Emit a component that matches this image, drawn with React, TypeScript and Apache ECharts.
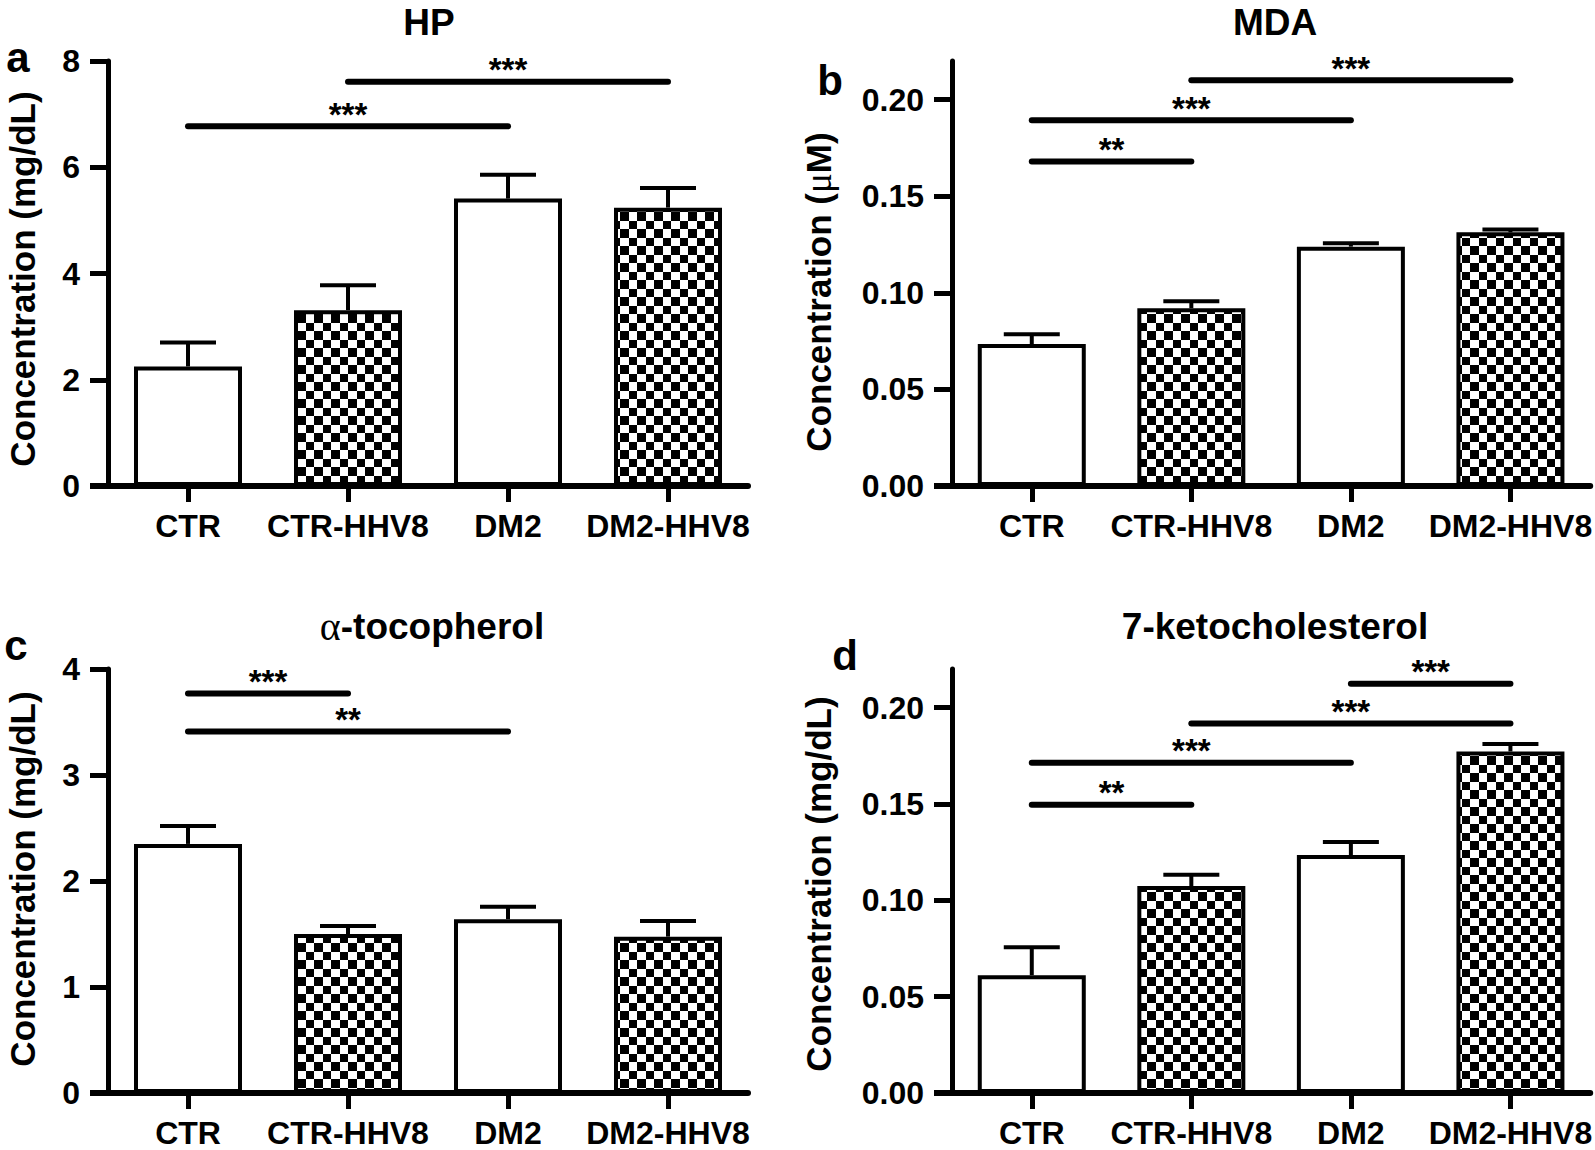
import React, { useEffect, useRef } from 'react';
import * as echarts from 'echarts';

const FONT = "'Liberation Sans', Arial, Helvetica, sans-serif";
const SERIF = "'Liberation Serif', 'DejaVu Serif', serif";

// ---------- data ----------
const categories = ['CTR', 'CTR-HHV8', 'DM2', 'DM2-HHV8'];
const checkered = [false, true, false, true];

const hpMean = [2.25, 3.31, 5.41, 5.24];
const hpErrTop = [2.7, 3.78, 5.86, 5.61];
const hpTicks = [0, 2, 4, 6, 8];
const hpSig = [[0, 2, 6.77], [1, 3, 7.61]];
const hpSigLabels = ['***', '***'];

const mdaMean = [0.0735, 0.092, 0.1239, 0.1313];
const mdaErrTop = [0.0785, 0.0957, 0.1257, 0.1328];
const mdaTicks = [0, 0.05, 0.1, 0.15, 0.2];
const mdaSig = [[0, 1, 0.168], [0, 2, 0.1893], [1, 3, 0.21]];
const mdaSigLabels = ['**', '***', '***'];

const tocMean = [2.35, 1.5, 1.64, 1.475];
const tocErrTop = [2.52, 1.576, 1.758, 1.623];
const tocTicks = [0, 1, 2, 3, 4];
const tocSig = [[0, 1, 3.77], [0, 2, 3.41]];
const tocSigLabels = ['***', '**'];

const ketoMean = [0.0611, 0.1074, 0.1235, 0.1772];
const ketoErrTop = [0.0756, 0.1133, 0.1302, 0.1811];
const ketoTicks = [0, 0.05, 0.1, 0.15, 0.2];
const ketoSig = [[0, 1, 0.1496], [0, 2, 0.1713], [1, 3, 0.1917], [2, 3, 0.2124]];
const ketoSigLabels = ['**', '***', '***', '***'];

// ---------- layout ----------
const panels = [
  {
    title: 'HP', letter: 'a', yTitle: 'Concentration (mg/dL)', max: 8, decimals: 0,
    ticks: hpTicks, mean: hpMean, err: hpErrTop, sig: hpSig, sigLabels: hpSigLabels,
    left: 108, top: 61, height: 425, titleXY: [429, 22], letterXY: [18, 57], yTitleXY: [22, 279],
  },
  {
    title: 'MDA', letter: 'b', yTitle: 'Concentration ({g|μ}M)', max: 0.22, decimals: 2,
    ticks: mdaTicks, mean: mdaMean, err: mdaErrTop, sig: mdaSig, sigLabels: mdaSigLabels,
    left: 952, top: 61, height: 425, titleXY: [1275, 22], letterXY: [830, 80], yTitleXY: [818, 292],
  },
  {
    title: '{g|α}-tocopherol', letter: 'c', yTitle: 'Concentration (mg/dL)', max: 4, decimals: 0,
    ticks: tocTicks, mean: tocMean, err: tocErrTop, sig: tocSig, sigLabels: tocSigLabels,
    left: 108, top: 669, height: 424, titleXY: [432, 626], letterXY: [16, 645], yTitleXY: [22, 879],
  },
  {
    title: '7-ketocholesterol', letter: 'd', yTitle: 'Concentration (mg/dL)', max: 0.22, decimals: 2,
    ticks: ketoTicks, mean: ketoMean, err: ketoErrTop, sig: ketoSig, sigLabels: ketoSigLabels,
    left: 952, top: 669, height: 424, titleXY: [1275, 626], letterXY: [845, 655], yTitleXY: [818, 884],
  },
];
const GRID_W = 640;

function makeChecker() {
  const c = document.createElement('canvas');
  c.width = 17;
  c.height = 17;
  const ctx = c.getContext('2d')!;
  ctx.fillStyle = '#ffffff';
  ctx.fillRect(0, 0, 17, 17);
  ctx.fillStyle = '#000000';
  ctx.fillRect(0, 0, 8, 8);
  ctx.fillRect(8, 8, 9, 9);
  return { image: c, repeat: 'repeat', imageWidth: 17, imageHeight: 17 };
}

const richTitle = { g: { fontFamily: SERIF, fontWeight: 'normal', fontSize: 40, fill: '#000' } };
const richYTitle = { g: { fontFamily: SERIF, fontWeight: 'normal', fontSize: 37, fill: '#000' } };

export default function App() {
  const ref = useRef<HTMLDivElement>(null);

  useEffect(() => {
    if (!ref.current) return;
    const chart = echarts.init(ref.current, null, { renderer: 'svg' });
    const pattern = makeChecker();

    const grid: any[] = [];
    const xAxis: any[] = [];
    const yAxis: any[] = [];
    const series: any[] = [];
    const graphic: any[] = [];

    panels.forEach((p, i) => {
      grid.push({ left: p.left, top: p.top, width: GRID_W, height: p.height, containLabel: false });
      xAxis.push({
        gridIndex: i,
        type: 'category',
        data: categories,
        boundaryGap: true,
        axisLine: { show: true, lineStyle: { color: '#000', width: 6 } },
        axisTick: { show: true, alignWithLabel: true, length: 16, lineStyle: { color: '#000', width: 5 } },
        axisLabel: { interval: 0, margin: 24, fontSize: 32, fontWeight: 'bold', fontFamily: FONT, color: '#000' },
        splitLine: { show: false },
      });
      yAxis.push({
        gridIndex: i,
        type: 'value',
        min: 0,
        max: p.max,
        axisLine: { show: true, lineStyle: { color: '#000', width: 5 } },
        axisTick: { show: true, length: 18, lineStyle: { color: '#000', width: 5 }, customValues: p.ticks },
        axisLabel: {
          margin: 28, fontSize: 32, fontWeight: 'bold', fontFamily: FONT, color: '#000',
          customValues: p.ticks,
          formatter: (v: number) => v.toFixed(p.decimals),
        },
        splitLine: { show: false },
      });
      series.push({
        type: 'bar',
        xAxisIndex: i,
        yAxisIndex: i,
        barWidth: 108,
        z: 2,
        data: p.mean.map((v, k) => ({
          value: v,
          itemStyle: { color: checkered[k] ? pattern : '#ffffff', borderColor: '#000', borderWidth: 4 },
        })),
      });
      series.push({
        type: 'custom',
        xAxisIndex: i,
        yAxisIndex: i,
        z: 3,
        encode: { x: 0, y: [1, 2] },
        data: p.mean.map((v, k) => [k, v, p.err[k]]),
        renderItem: (params: any, api: any) => {
          const x = api.value(0);
          const p0 = api.coord([x, api.value(1)]);
          const p1 = api.coord([x, api.value(2)]);
          return {
            type: 'group',
            children: [
              { type: 'line', shape: { x1: p0[0], y1: p0[1], x2: p1[0], y2: p1[1] }, style: { stroke: '#000', lineWidth: 4 } },
              { type: 'line', shape: { x1: p1[0] - 28, y1: p1[1], x2: p1[0] + 28, y2: p1[1] }, style: { stroke: '#000', lineWidth: 4 } },
            ],
          };
        },
      });
      const labels = p.sigLabels;
      series.push({
        type: 'custom',
        xAxisIndex: i,
        yAxisIndex: i,
        z: 4,
        encode: { x: [0, 1], y: 2 },
        data: p.sig.map((s) => [s[0], s[1], s[2]]),
        renderItem: (params: any, api: any) => {
          const a = api.coord([api.value(0), api.value(2)]);
          const b = api.coord([api.value(1), api.value(2)]);
          return {
            type: 'group',
            children: [
              { type: 'line', shape: { x1: a[0], y1: a[1], x2: b[0], y2: b[1] }, style: { stroke: '#000', lineWidth: 6, lineCap: 'round' } },
              {
                type: 'text',
                style: {
                  text: labels[params.dataIndex], x: (a[0] + b[0]) / 2, y: a[1] - 12,
                  align: 'center', verticalAlign: 'middle', fontSize: 33, fontWeight: 'bold', fontFamily: FONT, fill: '#000',
                },
              },
            ],
          };
        },
      });

      // panel title
      graphic.push({
        type: 'text', x: p.titleXY[0], y: p.titleXY[1],
        style: { text: p.title, rich: richTitle, align: 'center', verticalAlign: 'middle', fontSize: 37, fontWeight: 'bold', fontFamily: FONT, fill: '#000' },
      });
      // panel letter
      graphic.push({
        type: 'text', x: p.letterXY[0], y: p.letterXY[1],
        style: { text: p.letter, align: 'center', verticalAlign: 'middle', fontSize: 42, fontWeight: 'bold', fontFamily: FONT, fill: '#000' },
      });
      // y title
      graphic.push({
        type: 'text', x: p.yTitleXY[0], y: p.yTitleXY[1], rotation: Math.PI / 2,
        style: { text: p.yTitle, rich: richYTitle, align: 'center', verticalAlign: 'middle', fontSize: 35, fontWeight: 'bold', fontFamily: FONT, fill: '#000' },
      });
      // x-axis stub left of the y axis
      const zeroY = p.top + p.height;
      graphic.push({
        type: 'line', shape: { x1: p.left - 18, y1: zeroY, x2: p.left, y2: zeroY },
        style: { stroke: '#000', lineWidth: 6 },
      });
    });

    chart.setOption({
      animation: false,
      backgroundColor: '#ffffff',
      textStyle: { fontFamily: FONT },
      grid,
      xAxis,
      yAxis,
      series,
      graphic,
    });

    return () => chart.dispose();
  }, []);

  return (
    <div
      ref={ref}
      style={{ position: 'absolute', left: 0, top: 0, width: 1595, height: 1150, background: '#fff' }}
    />
  );
}
